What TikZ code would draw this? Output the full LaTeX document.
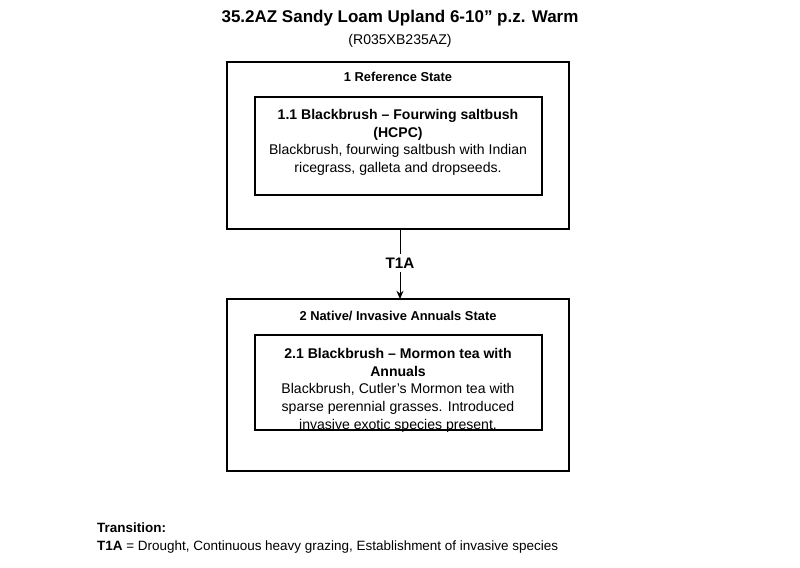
\documentclass[tikz,border=0pt]{standalone}
\usepackage{fontspec}
\setmainfont{Liberation Sans}
\usetikzlibrary{arrows.meta}
\begin{document}
\begin{tikzpicture}[x=0.03cm,y=-0.03cm,
  box/.style={draw,line width=0.9pt},
  lbl/.style={font=\fontsize{11pt}{13pt}\selectfont\bfseries,anchor=center},
  body/.style={font=\fontsize{12pt}{15.2pt}\selectfont,align=center,anchor=north}]
\useasboundingbox (0,0) rectangle (800,568);
\node[font=\fontsize{14.5pt}{17pt}\selectfont\bfseries] (title) at (400,18) {35.2AZ Sandy Loam Upland 6-10\symbol{34} p.z. Warm};
\node[font=\fontsize{12pt}{14pt}\selectfont] (sub) at (400,41) {(R035XB235AZ)};
\draw[box] (227,62) rectangle (569,229);
\node[lbl] at (398,77) {1 Reference State};
\draw[box] (255,97) rectangle (542,195);
\node[body] (b1) at (398,105) {\textbf{1.1 Blackbrush -- Fourwing saltbush}\\\textbf{(HCPC)}\\Blackbrush, fourwing saltbush with Indian\\ricegrass, galleta and dropseeds.};
\draw[box] (227,299) rectangle (569,471);
\node[lbl] at (398,316) {2 Native/ Invasive Annuals State};
\draw[box] (255,335) rectangle (542,430);
\node[body] (b2) at (398,344) {\textbf{2.1 Blackbrush -- Mormon tea with}\\\textbf{Annuals}\\Blackbrush, Cutler's Mormon tea with\\sparse perennial grasses. Introduced\\invasive exotic species present.};
\coordinate (a1) at (400,229);
\coordinate (a2) at (400,299);
\draw[line width=0.8pt,-{Stealth[length=7pt,width=6pt]}] (a1) -- (a2);
\node[lbl,fill=white,font=\fontsize{13pt}{15pt}\selectfont\bfseries] (t1a) at (400,263) {T1A};
\node[anchor=west,font=\fontsize{11.5pt}{13pt}\selectfont\bfseries] (tr) at (93,528) {Transition:};
\node[anchor=west,font=\fontsize{11.5pt}{13pt}\selectfont] (trd) at (93,547) {\textbf{T1A} = Drought, Continuous heavy grazing, Establishment of invasive species};
\end{tikzpicture}
\end{document}
